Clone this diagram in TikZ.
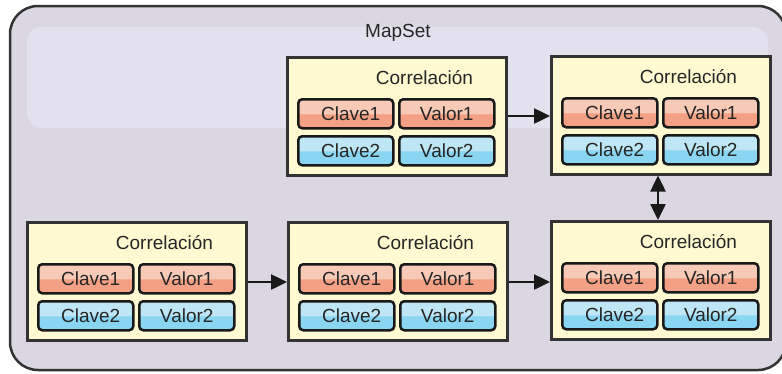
\documentclass[tikz,border=0pt]{standalone}
\usepackage{fontspec}
\setmainfont{Liberation Sans}
\usetikzlibrary{arrows.meta,calc}
\definecolor{outerfill}{HTML}{DAD7E3}
\definecolor{bandfill}{HTML}{E3E1ED}
\definecolor{corrfill}{HTML}{FFFAD2}
\definecolor{edge}{HTML}{333333}
\definecolor{redlight}{HTML}{F7CAB8}
\definecolor{reddark}{HTML}{F3A084}
\definecolor{bluelight}{HTML}{BFE6F5}
\definecolor{bluedark}{HTML}{8AD5F1}
\pgfdeclareverticalshading{redgloss}{100bp}{color(0bp)=(reddark); color(25bp)=(reddark); color(49bp)=(reddark); color(51bp)=(redlight); color(75bp)=(redlight); color(100bp)=(redlight)}
\pgfdeclareverticalshading{bluegloss}{100bp}{color(0bp)=(bluedark); color(25bp)=(bluedark); color(49bp)=(bluedark); color(51bp)=(bluelight); color(75bp)=(bluelight); color(100bp)=(bluelight)}
\tikzset{
  corrbox/.style={draw=edge, line width=2.5pt, fill=corrfill, minimum width=219pt, minimum height=118pt, anchor=north west, inner sep=0pt},
  cell/.style={draw=black!90, line width=2.5pt, rounded corners=4pt, minimum width=95pt, minimum height=29pt, anchor=north west, inner sep=0pt},
  redcell/.style={cell, shading=redgloss},
  bluecell/.style={cell, shading=bluegloss},
  lbl/.style={font=\fontsize{19pt}{21pt}\selectfont, text=black!85, inner sep=0pt},
  conn/.style={line width=2.5pt, draw=black!90, -{Triangle[length=16pt,width=15pt]}},
  dconn/.style={line width=2.5pt, draw=black!90, {Triangle[length=16pt,width=15pt]}-{Triangle[length=16pt,width=15pt]}}
}
\newcommand\corrgroup[3]{%
  \node[corrbox] (#1) at (#2,#3) {};
  \node[lbl] (#1t) at ($(#2,#3)+(138.5,22)$) {Correlación};
  \node[redcell] (#1k1) at ($(#2,#3)+(11,42)$) {};
  \node[redcell] (#1v1) at ($(#2,#3)+(112,42)$) {};
  \node[bluecell] (#1k2) at ($(#2,#3)+(11,79)$) {};
  \node[bluecell] (#1v2) at ($(#2,#3)+(112,79)$) {};
  \node[lbl] (#1k1t) at ($(#1k1.center)+(5,0)$) {Clave1};
  \node[lbl] (#1v1t) at ($(#1v1.center)+(0,0)$) {Valor1};
  \node[lbl] (#1k2t) at ($(#1k2.center)+(5,0)$) {Clave2};
  \node[lbl] (#1v2t) at ($(#1v2.center)+(0,0)$) {Valor2};
}
\begin{document}
\begin{tikzpicture}[x=1pt,y=-1pt]
\clip (0,0) rectangle (782,373);
\fill[white] (0,0) rectangle (782,373);
\draw[draw=edge, line width=2.5pt, fill=outerfill, rounded corners=28pt] (10,6) rectangle (786,370);
\fill[bandfill, rounded corners=15pt] (27,27) rectangle (768,128);
\node[lbl, anchor=west] (mapset) at (365,33) {MapSet};
\corrgroup{ctm}{286}{56}
\corrgroup{ctr}{550}{55}
\corrgroup{cbl}{26}{221}
\corrgroup{cbm}{287}{221}
\corrgroup{cbr}{550}{220}
\draw[conn] (ctm.east |- 0,116) -- (ctr.west |- 0,116);
\draw[conn] (cbl.east |- 0,282) -- (cbm.west |- 0,282);
\draw[conn] (cbm.east |- 0,282) -- (cbr.west |- 0,282);
\draw[dconn] (ctr.south -| 658,0) -- (cbr.north -| 658,0);
\end{tikzpicture}
\end{document}
